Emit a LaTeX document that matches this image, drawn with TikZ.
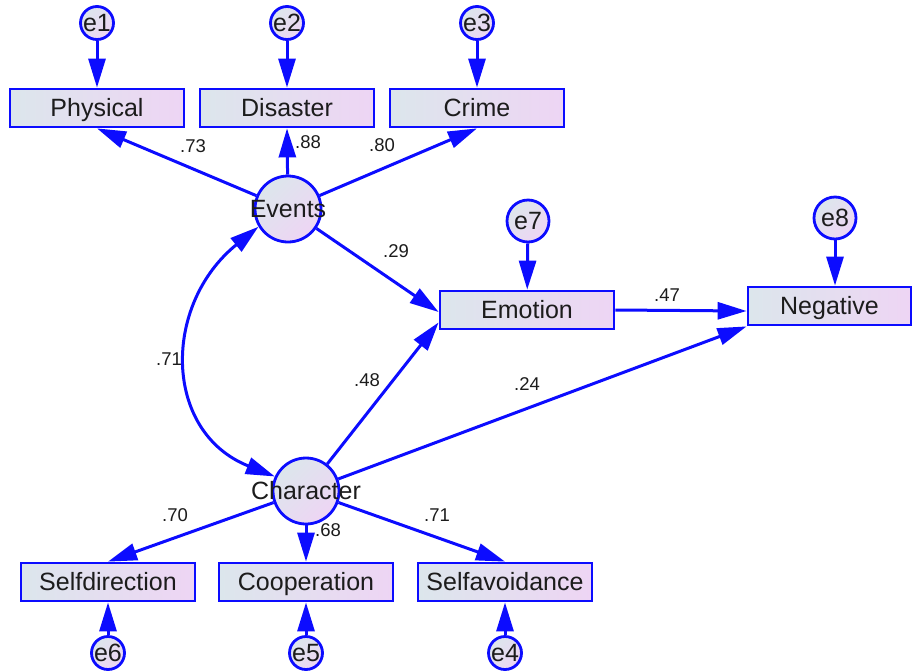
\documentclass[tikz,border=0pt]{standalone}
\usepackage{fontspec}
\setmainfont{Liberation Sans}
\usetikzlibrary{arrows.meta,calc}
\definecolor{lnblue}{RGB}{12,12,255}
\definecolor{fillA}{RGB}{220,230,236}
\definecolor{fillB}{RGB}{238,213,244}
\definecolor{txt}{RGB}{28,28,28}
\begin{document}
\begin{tikzpicture}[x=1pt,y=-1pt,
  every node/.style={text=txt},
  obs/.style={draw=lnblue, line width=2.8pt, left color=fillA, right color=fillB,
    minimum width=174pt, minimum height=38pt, inner sep=0pt,
    text height=17.5pt, text depth=0pt,
    font=\fontsize{25}{29}\selectfont},
  lat/.style={circle, draw=lnblue, line width=2.8pt, left color=fillA, right color=fillB,
    shading angle=45, minimum size=66pt, inner sep=0pt,
    font=\fontsize{25}{29}\selectfont},
  err/.style={lat, minimum size=33pt},
  errbig/.style={lat, minimum size=42pt},
  arr/.style={draw=lnblue, line width=3pt, -{Triangle[length=29pt,width=17pt]}},
  dblarr/.style={draw=lnblue, line width=3pt, {Triangle[length=29pt,width=17pt]}-{Triangle[length=29pt,width=17pt]}},
  coef/.style={font=\fontsize{18.5}{20}\selectfont, inner sep=0pt}
]
\useasboundingbox (0,0) rectangle (912,670);

% observed variables
\node[obs] (phys) at (97,108) {Physical};
\node[obs] (dis) at (287,108) {Disaster};
\node[obs] (cri) at (477,108) {Crime};
\node[obs] (emo) at (527,310) {Emotion};
\node[obs, minimum width=163pt] (neg) at (829.5,306) {Negative};
\node[obs] (sd) at (108,582) {Selfdirection};
\node[obs] (coop) at (306,582) {Cooperation};
\node[obs] (sa) at (505,582) {Selfavoidance};

% latent variables
\node[lat] (ev) at (288,209) {\makebox[0pt]{Events}};
\node[lat] (ch) at (306,491) {\makebox[0pt]{Character}};

% error terms
\node[err] (e1) at (97,23) {\makebox[0pt]{e1}};
\node[err] (e2) at (287,23) {\makebox[0pt]{e2}};
\node[err] (e3) at (477,23) {\makebox[0pt]{e3}};
\node[errbig] (e7) at (528,221) {\makebox[0pt]{e7}};
\node[errbig] (e8) at (835,218) {\makebox[0pt]{e8}};
\node[err] (e6) at (108,653) {\makebox[0pt]{e6}};
\node[err] (e5) at (306,653) {\makebox[0pt]{e5}};
\node[err] (e4) at (505,653) {\makebox[0pt]{e4}};

% error arrows
\draw[arr] (e1) -- (phys);
\draw[arr] (e2) -- (dis);
\draw[arr] (e3) -- (cri);
\draw[arr] (e7) -- (emo);
\draw[arr] (e8) -- (neg.north -| e8);
\draw[arr] (e6) -- (sd);
\draw[arr] (e5) -- (coop);
\draw[arr] (e4) -- (sa);

% loadings
\draw[arr] (ev) -- (phys.south);
\draw[arr] (ev) -- (dis.south);
\draw[arr] (ev) -- (cri.south);
\draw[arr] (ch) -- (sd.north);
\draw[arr] (ch) -- (coop.north);
\draw[arr] (ch) -- (sa.north);

% structural paths
\draw[arr] (ev) -- ($(emo.west)+(0,2)$);
\draw[arr] (ch) -- ($(emo.south west)+(0,-8)$);
\draw[arr] (emo.east) -- ($(neg.west)+(0,5)$);
\draw[arr] (ch) -- (neg.south west);
\draw[dblarr] (ev.211) .. controls (162,305) and (163,432) .. (ch.155);

% coefficients
\node[coef] (c73) at (193,146) {.73};
\node[coef] (c88) at (308,142) {.88};
\node[coef] (c80) at (382,145) {.80};
\node[coef] (c29) at (396,251) {.29};
\node[coef] (c71a) at (169,359) {.71};
\node[coef] (c48) at (367,380) {.48};
\node[coef] (c24) at (527,384) {.24};
\node[coef] (c47) at (667,295) {.47};
\node[coef] (c70) at (175,515) {.70};
\node[coef] (c68) at (328,530) {.68};
\node[coef] (c71b) at (437,515) {.71};
\end{tikzpicture}
\end{document}
